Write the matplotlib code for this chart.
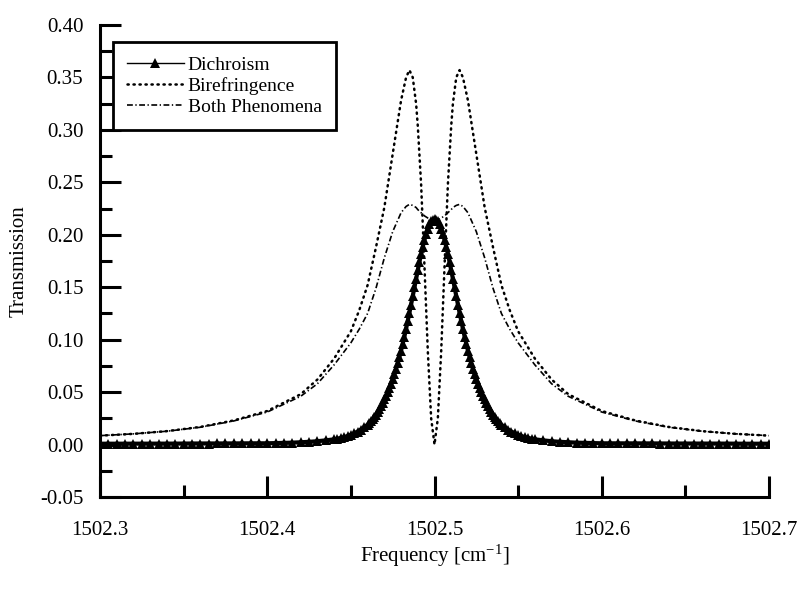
import numpy as np
import matplotlib
matplotlib.use("Agg")
import matplotlib.pyplot as plt

plt.rcParams['font.family'] = ['Liberation Serif', 'DejaVu Serif']
plt.rcParams['mathtext.fontset'] = 'custom'
plt.rcParams['mathtext.rm'] = 'Liberation Serif'
plt.rcParams['mathtext.it'] = 'Liberation Serif:italic'

# ---------------- data ----------------
# Dichroism: frequency grid and transmission values
dich_freq = np.round(np.concatenate([
    np.arange(1502.300, 1502.4351, 0.005),   # 28 pts
    np.arange(1502.440, 1502.4581, 0.002),   # 10 pts
    np.arange(1502.460, 1502.5401, 0.001),   # 81 pts
    np.arange(1502.542, 1502.5601, 0.002),   # 10 pts
    np.arange(1502.565, 1502.7001, 0.005),   # 28 pts
]), 4)

dich_trans = [
    # 1502.300 .. 1502.435
    0.0008, 0.0008, 0.0008, 0.0008, 0.0008, 0.0009, 0.0009, 0.0009, 0.0009, 0.0009,
    0.0010, 0.0010, 0.0010, 0.0010, 0.0011, 0.0011, 0.0011, 0.0012, 0.0012, 0.0012,
    0.0012, 0.0014, 0.0016, 0.0018, 0.0022, 0.0026, 0.0032, 0.0040,
    # 1502.440 .. 1502.458
    0.0050, 0.0056, 0.0063, 0.0071, 0.0081, 0.0093, 0.0107, 0.0124, 0.0143, 0.0165,
    # 1502.460 .. 1502.500
    0.0190, 0.0205, 0.0220, 0.0240, 0.0260, 0.0285, 0.0310, 0.0340, 0.0365, 0.0400,
    0.0431, 0.0464, 0.0499, 0.0538, 0.0579, 0.0623, 0.0671, 0.0722, 0.0777, 0.0835,
    0.0896, 0.0962, 0.1030, 0.1103, 0.1178, 0.1255, 0.1335, 0.1417, 0.1499, 0.1581,
    0.1663, 0.1742, 0.1817, 0.1888, 0.1952, 0.2010, 0.2059, 0.2098, 0.2127, 0.2144,
    0.2150,
    # 1502.501 .. 1502.540
    0.2144, 0.2127, 0.2098, 0.2059, 0.2010, 0.1952, 0.1888, 0.1817, 0.1742, 0.1663,
    0.1581, 0.1499, 0.1417, 0.1335, 0.1255, 0.1178, 0.1103, 0.1030, 0.0962, 0.0896,
    0.0835, 0.0777, 0.0722, 0.0671, 0.0623, 0.0579, 0.0538, 0.0499, 0.0464, 0.0431,
    0.0400, 0.0365, 0.0340, 0.0310, 0.0285, 0.0260, 0.0240, 0.0220, 0.0205, 0.0190,
    # 1502.542 .. 1502.560
    0.0165, 0.0143, 0.0124, 0.0107, 0.0093, 0.0081, 0.0071, 0.0063, 0.0056, 0.0050,
    # 1502.565 .. 1502.700
    0.0040, 0.0032, 0.0026, 0.0022, 0.0018, 0.0016, 0.0014, 0.0012, 0.0012, 0.0012,
    0.0012, 0.0011, 0.0011, 0.0011, 0.0010, 0.0010, 0.0010, 0.0010, 0.0009, 0.0009,
    0.0009, 0.0009, 0.0009, 0.0008, 0.0008, 0.0008, 0.0008, 0.0008,
]

# Birefringence and Both Phenomena share one frequency grid
curve_freq = [
    1502.300, 1502.320, 1502.340, 1502.360, 1502.380, 1502.400, 1502.420, 1502.430,
    1502.440, 1502.450, 1502.455, 1502.460, 1502.465, 1502.470, 1502.475, 1502.480,
    1502.483, 1502.485, 1502.487, 1502.489, 1502.490, 1502.492, 1502.494, 1502.496,
    1502.498, 1502.500,
    1502.502, 1502.504, 1502.506, 1502.508, 1502.510, 1502.511, 1502.513, 1502.515,
    1502.517, 1502.520, 1502.525, 1502.530, 1502.535, 1502.540, 1502.545, 1502.550,
    1502.560, 1502.570, 1502.580, 1502.600, 1502.620, 1502.640, 1502.660, 1502.680,
    1502.700,
]

biref_trans = [
    0.0085, 0.0102, 0.0128, 0.0168, 0.0230, 0.0320, 0.0480, 0.0620,
    0.0820, 0.1080, 0.1280, 0.1520, 0.1880, 0.2260, 0.2770, 0.3280,
    0.3500, 0.3570, 0.3500, 0.3250, 0.3040, 0.2480, 0.1700, 0.0890,
    0.0250, 0.0000,
    0.0250, 0.0890, 0.1700, 0.2480, 0.3040, 0.3250, 0.3500, 0.3570,
    0.3500, 0.3280, 0.2770, 0.2260, 0.1880, 0.1520, 0.1280, 0.1080,
    0.0820, 0.0620, 0.0480, 0.0320, 0.0230, 0.0168, 0.0128, 0.0102,
    0.0085,
]

both_trans = [
    0.0085, 0.0102, 0.0127, 0.0165, 0.0225, 0.0310, 0.0460, 0.0580,
    0.0760, 0.0970, 0.1100, 0.1250, 0.1490, 0.1780, 0.2030, 0.2210,
    0.2270, 0.2290, 0.2280, 0.2260, 0.2240, 0.2210, 0.2180, 0.2160,
    0.2145, 0.2140,
    0.2145, 0.2160, 0.2180, 0.2210, 0.2240, 0.2260, 0.2280, 0.2290,
    0.2270, 0.2210, 0.2030, 0.1780, 0.1490, 0.1250, 0.1100, 0.0970,
    0.0760, 0.0580, 0.0460, 0.0310, 0.0225, 0.0165, 0.0127, 0.0102,
    0.0085,
]

x_ticks = [1502.3, 1502.4, 1502.5, 1502.6, 1502.7]
x_tick_labels = ["1502.3", "1502.4", "1502.5", "1502.6", "1502.7"]
y_ticks = [-0.05, 0.00, 0.05, 0.10, 0.15, 0.20, 0.25, 0.30, 0.35, 0.40]
y_tick_labels = ["-0.05", "0.00", "0.05", "0.10", "0.15", "0.20", "0.25", "0.30", "0.35", "0.40"]

series_names = ["Dichroism", "Birefringence", "Both Phenomena"]

# ---------------- figure ----------------
fig = plt.figure(figsize=(8.03, 5.93), dpi=100)
ax = fig.add_axes([100 / 803, 1 - 497 / 593, 669 / 803, 472 / 593])

ax.plot(curve_freq, biref_trans, color='black', lw=1.8,
        dashes=(0.5, 1.9), dash_capstyle='round', label=series_names[1], zorder=2)
ax.plot(curve_freq, both_trans, color='black', lw=1.2,
        dashes=(3.5, 1.5, 0.8, 1.5), label=series_names[2], zorder=2)
# dense band of overlapping triangles (thin trace under the markers)
ax.plot(dich_freq, dich_trans, color='black', lw=3.0, solid_capstyle='butt', zorder=3)
ax.plot(dich_freq, dich_trans, color='black', lw=1.0, marker='^',
        markersize=7.5, markeredgewidth=0, label=series_names[0], zorder=3)

ax.set_xlim(1502.3, 1502.7)
ax.set_ylim(-0.05, 0.40)

ax.set_xticks(x_ticks)
ax.set_xticklabels(x_tick_labels)
ax.set_xticks(np.round(np.arange(1502.35, 1502.7, 0.1), 3), minor=True)
ax.set_yticks(y_ticks)
ax.set_yticklabels(y_tick_labels)
ax.set_yticks(np.round(np.arange(-0.025, 0.40, 0.05), 3), minor=True)

for s in ['top', 'right']:
    ax.spines[s].set_visible(False)
for s in ['left', 'bottom']:
    ax.spines[s].set_linewidth(2.2)

ax.tick_params(which='major', direction='in', length=15, width=2.2,
               labelsize=15, pad=6)
ax.tick_params(which='minor', direction='in', length=8.5, width=2.2)
ax.tick_params(axis='x', which='major', pad=17.5)
ax.tick_params(axis='y', which='major', pad=12)

ax.set_xlabel("Frequency [cm$^{-1}$]", fontsize=15, labelpad=2)
ax.set_ylabel("Transmission", fontsize=15, labelpad=8)

handles, labels = ax.get_legend_handles_labels()
order = [2, 0, 1]
leg = ax.legend([handles[i] for i in order], [labels[i] for i in order],
                loc='upper left', bbox_to_anchor=(0.019, 0.964), borderaxespad=0,
                fontsize=14, frameon=True, fancybox=False, handlelength=2.9,
                handletextpad=0.2, labelspacing=0.15, borderpad=0.75)
leg.get_frame().set_edgecolor('black')
leg.get_frame().set_linewidth(2.0)
leg.get_frame().set_alpha(1)

fig.savefig("out.png", dpi=100)
